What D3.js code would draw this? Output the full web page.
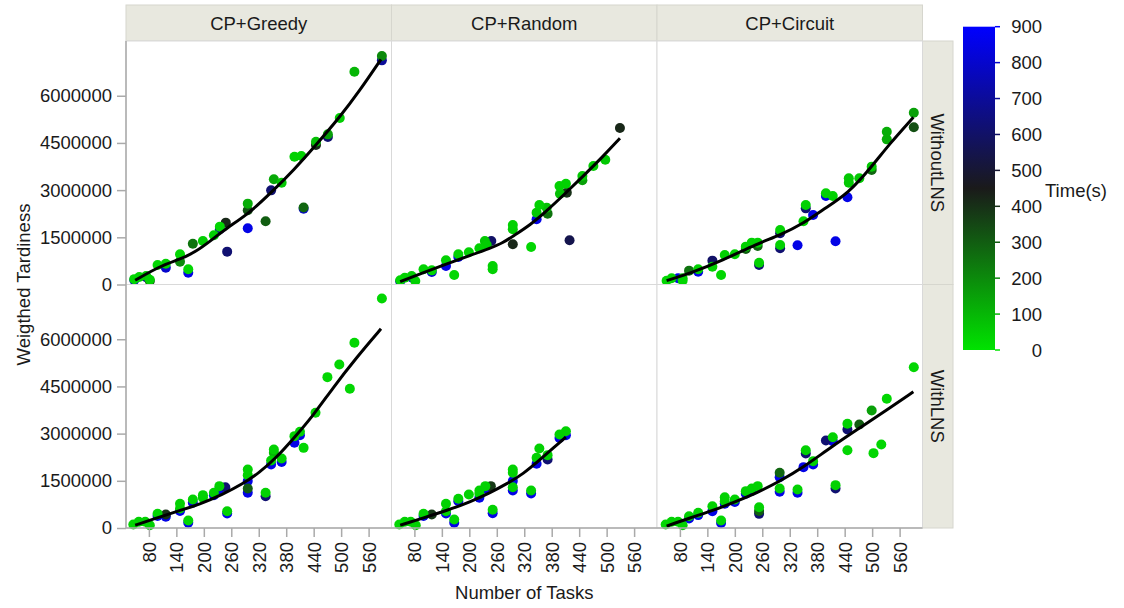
<!DOCTYPE html>
<html><head><meta charset="utf-8">
<script src="https://cdn.jsdelivr.net/npm/d3@7/dist/d3.min.js"></script>
<style>
html,body{margin:0;padding:0;background:#fff;}
svg{display:block;font-family:"Liberation Sans",Arial,sans-serif;}
</style></head>
<body><svg id="chart" width="1124" height="608"></svg>
<script>
// ---------- data ----------
const methods = ["CP+Greedy", "CP+Random", "CP+Circuit"];
const variants = ["WithoutLNS", "WithLNS"];
const xTicks = [80, 140, 200, 260, 320, 380, 440, 500, 560];
const yTicks = [0, 1500000, 3000000, 4500000, 6000000];
const timeTicks = [0, 100, 200, 300, 400, 500, 600, 700, 800, 900];

// points: [tasks, weighted tardiness, time(s)]
const greedyWithout = [
 [48,140000,800],[48,170000,30],[59,240000,40],[74,230000,700],[74,270000,60],[82,110000,350],[82,150000,40],
 [99,620000,30],[117,535000,800],[117,662000,40],[148,726000,200],[148,959000,30],[166,376000,850],[166,483000,30],
 [176,1298000,250],[198,1383000,50],[222,1563000,40],[235,1754000,700],[235,1839000,30],[248,1966000,420],
 [251,1044000,620],[296,1786000,850],[296,2358000,330],[296,2570000,120],[335,2008000,300],[347,2993000,620],
 [353,3343000,130],[370,3237000,60],[398,4063000,40],[413,4085000,40],[418,2410000,800],[418,2450000,280],
 [445,4434000,420],[445,4540000,80],[471,4689000,620],[471,4773000,150],[497,5290000,50],[529,6765000,100],
 [589,7125000,700],[589,7263000,200]
];
const randomWithout = [
 [49,100000,800],[49,133000,30],[59,217000,40],[74,220000,800],[74,270000,50],[82,112000,40],[100,483000,40],
 [118,400000,800],[118,450000,30],[149,588000,850],[149,768000,40],[167,302000,30],[176,874000,850],[176,959000,40],
 [199,1023000,40],[222,1150000,40],[234,1383000,60],[238,1256000,50],[248,1383000,600],[251,483000,40],[251,588000,40],
 [295,1277000,420],[295,1754000,50],[295,1891000,40],[335,1192000,30],[347,2072000,850],[347,2284000,60],
 [353,2527000,40],[369,2443000,80],[371,2252000,250],[397,3131000,40],[398,2887000,80],[411,3205000,40],
 [413,2920000,400],[419,1404000,550],[447,3311000,150],[447,3449000,60],[471,3767000,50],[497,3968000,60],
 [529,4975000,420]
];
const circuitWithout = [
 [51,122000,30],[62,196000,40],[76,196000,850],[86,122000,30],[86,196000,60],[100,440000,250],[120,408000,850],
 [120,482000,40],[151,758000,600],[151,567000,40],[170,302000,30],[178,938000,40],[200,959000,40],
 [224,1130000,300],[224,1203000,40],[237,1330000,40],[250,1224000,280],[250,1330000,40],[253,620000,620],
 [253,694000,40],[299,1150000,620],[299,1256000,40],[299,1627000,620],[299,1733000,40],[337,1245000,850],
 [350,2008000,40],[355,2420000,620],[355,2527000,40],[371,2210000,850],[399,2813000,850],[399,2898000,40],
 [414,2813000,40],[420,1372000,850],[446,2771000,850],[449,3237000,60],[449,3375000,60],[472,3375000,60],
 [499,3640000,280],[499,3746000,60],[532,4614000,120],[532,4858000,120],[591,4996000,330],[591,5462000,150]
];
const greedyWith = [
 [46,112000,30],[58,196000,40],[72,196000,40],[82,90000,40],[99,380000,850],[99,450000,30],[117,360000,850],
 [117,430000,400],[148,540000,850],[148,620000,40],[148,768000,40],[166,170000,850],[166,239000,30],
 [176,800000,850],[176,906000,40],[198,959000,40],[198,1044000,40],[222,1040000,850],[222,1118000,40],
 [234,1230000,850],[234,1330000,40],[247,1298000,620],[251,460000,850],[251,535000,40],[296,1120000,850],
 [296,1256000,300],[296,1490000,850],[296,1680000,40],[296,1860000,40],[335,1012000,620],[335,1118000,40],
 [347,2020000,850],[347,2146000,40],[353,2390000,100],[353,2495000,40],[370,2100000,850],[370,2210000,40],
 [398,2710000,850],[398,2920000,40],[410,2950000,850],[410,3057000,40],[418,2548000,30],[444,3661000,40],
 [470,4795000,30],[496,5197000,30],[519,4424000,30],[529,5886000,30],[589,7295000,30]
];
const randomWith = [
 [47,112000,30],[59,196000,40],[72,196000,40],[83,90000,40],[100,380000,850],[100,450000,40],[118,430000,380],
 [149,460000,850],[149,535000,40],[149,768000,40],[167,170000,850],[167,270000,30],[176,850000,850],
 [176,927000,40],[199,1065000,40],[222,960000,850],[222,1086000,40],[222,1192000,40],[235,1250000,850],
 [235,1330000,40],[247,1330000,380],[251,472000,850],[251,578000,40],[295,1190000,850],[295,1298000,40],
 [295,1490000,850],[295,1754000,40],[295,1860000,40],[335,1100000,850],[335,1192000,40],[347,2040000,850],
 [347,2230000,40],[353,2527000,40],[371,2178000,620],[371,2316000,40],[397,2860000,850],[397,2970000,40],
 [411,2950000,850],[411,3078000,40]
];
const circuitWith = [
 [49,112000,30],[62,196000,40],[76,196000,40],[86,90000,40],[100,300000,850],[100,376000,40],[120,410000,850],
 [120,483000,40],[151,535000,850],[151,694000,40],[170,160000,850],[170,239000,30],[178,770000,850],
 [178,853000,40],[178,980000,40],[200,830000,850],[200,906000,40],[224,1090000,850],[224,1171000,40],
 [237,1180000,850],[237,1256000,40],[250,1330000,40],[253,450000,620],[253,540000,300],[253,662000,40],
 [298,1150000,850],[298,1256000,40],[298,1616000,850],[298,1754000,280],[337,1118000,850],[337,1224000,40],
 [350,1934000,850],[355,2368000,620],[355,2474000,40],[371,2019000,850],[371,2125000,40],[399,2782000,620],
 [414,2760000,850],[414,2887000,40],[420,1256000,620],[420,1362000,40],[446,3131000,620],[446,3311000,40],
 [446,2474000,30],[472,3290000,300],[499,3735000,150],[503,2379000,30],[520,2654000,30],[532,4106000,30],
 [591,5112000,30]
];

// smooth trend curves: [tasks, weighted tardiness]
const greedyWithoutFit = [[50,133000],[103,578000],[147,800000],[179,1002000],[222,1468000],[249,1786000],[296,2230000],[347,2919000],[398,3661000],[445,4434000],[496,5303000],[540,6151000],[587,7157000]];
const randomWithoutFit = [[49,90000],[100,376000],[151,662000],[202,927000],[245,1150000],[274,1330000],[296,1542000],[333,1891000],[369,2337000],[406,2845000],[449,3449000],[493,4085000],[529,4646000]];
const circuitWithoutFit = [[51,122000],[102,355000],[175,779000],[248,1288000],[299,1574000],[350,1945000],[393,2390000],[448,2898000],[499,3746000],[539,4487000],[590,5314000]];
const greedyWithFit = [[50,90000],[103,345000],[147,557000],[190,747000],[241,1065000],[285,1404000],[321,1754000],[358,2230000],[394,2813000],[438,3555000],[482,4456000],[533,5409000],[587,6331000]];
const randomWithFit = [[49,90000],[100,323000],[151,557000],[202,832000],[245,1118000],[282,1404000],[318,1722000],[355,2178000],[384,2549000],[411,2887000]];
const circuitWithFit = [[51,58000],[102,323000],[153,557000],[204,853000],[248,1118000],[299,1489000],[350,1934000],[408,2548000],[473,3184000],[539,3820000],[590,4328000]];

const pointSets = [[greedyWithout, randomWithout, circuitWithout],[greedyWith, randomWith, circuitWith]];
const fitSets = [[greedyWithoutFit, randomWithoutFit, circuitWithoutFit],[greedyWithFit, randomWithFit, circuitWithFit]];

// ---------- layout ----------
const svg = d3.select("#chart");
const L = 126, PW = 265.5, T = 41, PH = 243.5, stripTop = 5;
const rowStripW = 30.5;
const gridCol = "#d9d9d9", axisCol = "#aaaaaa", stripFill = "#e8e8df", stripStroke = "#d6d6ce";
const fs = "18.5px", textCol = "#1a1a1a";

const color = d3.scaleLinear().domain([0, 450, 900]).range(["#00e300", "#1a1a1a", "#0000ff"]).clamp(true);

const x = d3.scaleLinear().domain([30, 610]).range([0, PW]);
const y = d3.scaleLinear().domain([0, 7740000]).range([PH, 0]);

// strips
methods.forEach((m, c) => {
  svg.append("rect").attr("x", L + c*PW).attr("y", stripTop).attr("width", PW).attr("height", T - stripTop)
    .attr("fill", stripFill).attr("stroke", stripStroke).attr("stroke-width", 1);
  svg.append("text").attr("x", L + c*PW + PW/2).attr("y", (stripTop + T)/2).attr("text-anchor", "middle")
    .attr("dominant-baseline", "central").attr("font-size", fs).attr("fill", textCol).text(m);
});
variants.forEach((v, r) => {
  const x0 = L + 3*PW, y0 = T + r*PH;
  svg.append("rect").attr("x", x0).attr("y", y0).attr("width", rowStripW).attr("height", PH)
    .attr("fill", stripFill).attr("stroke", stripStroke).attr("stroke-width", 1);
  svg.append("text").attr("transform", `translate(${x0 + rowStripW/2},${y0 + PH/2}) rotate(90)`)
    .attr("text-anchor", "middle").attr("dominant-baseline", "central").attr("font-size", fs)
    .attr("fill", textCol).text(v);
});

// panels
variants.forEach((v, r) => {
  methods.forEach((m, c) => {
    const g = svg.append("g").attr("transform", `translate(${L + c*PW},${T + r*PH})`);
    g.append("rect").attr("width", PW).attr("height", PH).attr("fill", "#fff")
      .attr("stroke", gridCol).attr("stroke-width", 1);
    const pts = pointSets[r][c].slice().sort((a, b) => b[2] - a[2]);
    g.selectAll("circle").data(pts).join("circle")
      .attr("cx", d => x(d[0])).attr("cy", d => y(d[1])).attr("r", 5)
      .attr("fill", d => color(d[2]));
    const line = d3.line().x(d => x(d[0])).y(d => y(d[1])).curve(d3.curveBasis);
    g.append("path").attr("d", line(fitSets[r][c])).attr("fill", "none")
      .attr("stroke", "#000").attr("stroke-width", 3);
  });
});

// axes lines
svg.append("line").attr("x1", L).attr("x2", L).attr("y1", T).attr("y2", T + 2*PH)
  .attr("stroke", axisCol).attr("stroke-width", 1.5);
svg.append("line").attr("x1", L).attr("x2", L + 3*PW).attr("y1", T + 2*PH).attr("y2", T + 2*PH)
  .attr("stroke", axisCol).attr("stroke-width", 1.5);

// y axes (left)
variants.forEach((v, r) => {
  const g = svg.append("g").attr("transform", `translate(${L},${T + r*PH})`);
  const ax = d3.axisLeft(y).tickValues(yTicks).tickSize(9).tickPadding(5).tickFormat(d3.format("d"));
  g.call(ax);
  g.select(".domain").remove();
  g.selectAll(".tick line").attr("stroke", axisCol).attr("stroke-width", 1.5);
  g.selectAll(".tick text").attr("font-size", fs).attr("fill", textCol)
    .attr("font-family", '"Liberation Sans",Arial,sans-serif');
});

// x axes (bottom)
methods.forEach((m, c) => {
  const g = svg.append("g").attr("transform", `translate(${L + c*PW},${T + 2*PH})`);
  const ax = d3.axisBottom(x).tickValues(xTicks).tickSize(9).tickFormat(d3.format("d"));
  g.call(ax);
  g.select(".domain").remove();
  g.selectAll(".tick line").attr("stroke", axisCol).attr("stroke-width", 1.5);
  g.selectAll(".tick text").attr("font-size", fs).attr("fill", textCol)
    .attr("font-family", '"Liberation Sans",Arial,sans-serif')
    .attr("transform", "translate(0,14) rotate(-90)").attr("x", 0).attr("y", 0).attr("dy", "0.35em")
    .attr("text-anchor", "end");
});

// axis titles
svg.append("text").attr("transform", `translate(23,${T + PH}) rotate(-90)`).attr("text-anchor", "middle")
  .attr("dominant-baseline", "central").attr("font-size", fs).attr("fill", textCol).text("Weigthed Tardiness");
svg.append("text").attr("x", L + 1.5*PW).attr("y", 599).attr("text-anchor", "middle")
  .attr("font-size", fs).attr("fill", textCol).text("Number of Tasks");

// color key
const keyX = 963, keyW = 32;
const keyY = d3.scaleLinear().domain([0, 900]).range([350, 26.7]);
const defs = svg.append("defs");
const grad = defs.append("linearGradient").attr("id", "tgrad").attr("x1", 0).attr("x2", 0).attr("y1", 1).attr("y2", 0);
[0, 225, 450, 675, 900].forEach(t => grad.append("stop").attr("offset", t/900).attr("stop-color", color(t)));
svg.append("rect").attr("x", keyX).attr("y", keyY(900)).attr("width", keyW).attr("height", keyY(0) - keyY(900))
  .attr("fill", "url(#tgrad)");
const kg = svg.append("g");
kg.selectAll("line").data(timeTicks).join("line")
  .attr("x1", keyX + keyW).attr("x2", keyX + keyW + 5).attr("y1", d => keyY(d)).attr("y2", d => keyY(d))
  .attr("stroke", d => color(d)).attr("stroke-width", 1.5);
kg.selectAll("text").data(timeTicks).join("text")
  .attr("x", 1042).attr("y", d => keyY(d)).attr("text-anchor", "end").attr("dominant-baseline", "central")
  .attr("font-size", fs).attr("fill", textCol).text(d => d);
svg.append("text").attr("x", 1045).attr("y", 190).attr("dominant-baseline", "central")
  .attr("font-size", fs).attr("fill", textCol).text("Time(s)");
</script>
</body></html>
